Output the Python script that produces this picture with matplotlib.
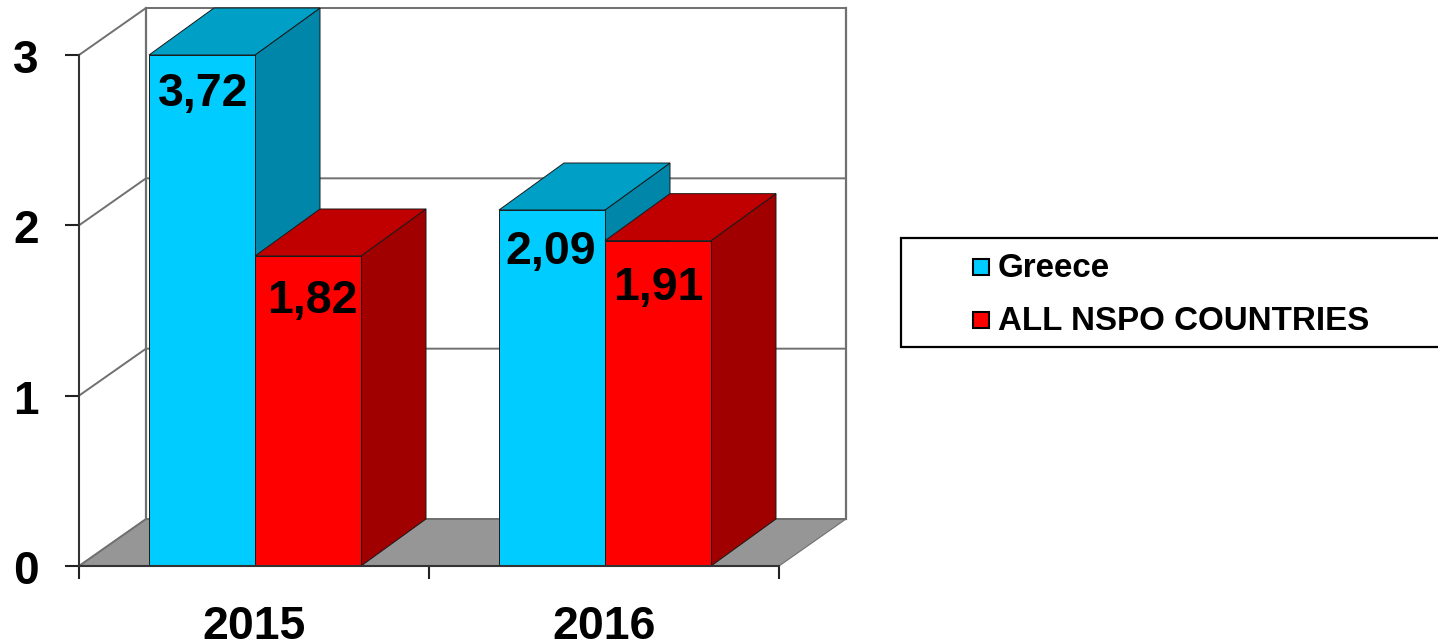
import matplotlib
matplotlib.use("Agg")
import matplotlib.pyplot as plt
from matplotlib.patches import Polygon, Rectangle
from matplotlib.transforms import ScaledTranslation

years = ["2015", "2016"]
series_names = ["Greece", "ALL NSPO COUNTRIES"]
greece = [3.72, 2.09]
nspo = [1.82, 1.91]
y_ticks = [0, 1, 2, 3]

W, H = 1438, 643
plt.rcParams["font.family"] = ["Liberation Sans", "DejaVu Sans"]
plt.rcParams["font.weight"] = "bold"

fig = plt.figure(figsize=(W / 100, H / 100), dpi=100, facecolor="white")
ax = fig.add_axes([79 / W, 1 - 566 / H, 700 / W, 511 / H])
ax.set_xlim(0, 2)
ax.set_ylim(0, 3)
ax.patch.set_visible(False)

# depth of the fake 3d, in data units
px_x = 2 / 700
px_y = 3 / 511
wall_dx = 67 * px_x
bar_dx = 65 * px_x
dy = 47 * px_y
bar_w = 106 * px_x
ymax = y_ticks[-1]

GRID = "#707070"
EDGE = "#1a1a1a"

# floor, walls and gridlines
ax.add_patch(Polygon([(0, 0), (2, 0), (2 + wall_dx, dy), (wall_dx, dy)],
                     fc="#969696", ec="#707070", lw=0.8, clip_on=False, zorder=1))
for t in y_ticks:
    ax.plot([0, wall_dx, 2 + wall_dx], [t, t + dy, t + dy], color=GRID, lw=1.4,
            clip_on=False, zorder=1.5, solid_joinstyle="miter")
ax.plot([wall_dx, wall_dx], [dy, ymax + dy], color=GRID, lw=1.6, clip_on=False, zorder=1.5)
ax.plot([2 + wall_dx, 2 + wall_dx], [dy, ymax + dy], color=GRID, lw=1.6, clip_on=False, zorder=1.5)


def bar3d(x, v, front, top, side, z):
    h = min(v, ymax)
    ax.add_patch(Polygon([(x + bar_w, 0), (x + bar_w + bar_dx, dy), (x + bar_w + bar_dx, h + dy), (x + bar_w, h)],
                         fc=side, ec=EDGE, lw=0.7, clip_on=False, zorder=z))
    ax.add_patch(Polygon([(x, h), (x + bar_w, h), (x + bar_w + bar_dx, h + dy), (x + bar_dx, h + dy)],
                         fc=top, ec=EDGE, lw=0.7, clip_on=False, zorder=z))
    ax.add_patch(Rectangle((x, 0), bar_w, h, fc=front, ec=EDGE, lw=0.7, clip_on=False, zorder=z + 0.1))


# label offsets below the bar top, pixels
nudge_g = [(1, -39), (-1, -42)]
nudge_n = [(4, -45), (0, -47)]

for i in range(len(years)):
    mid = i + 176 * px_x
    bar3d(mid - bar_w, greece[i], "#00CCFF", "#00A0C6", "#0086A8", 2 + i)
    bar3d(mid, nspo[i], "#FF0000", "#C00000", "#A00000", 2.5 + i)
    for x0, v, nd, z in [(mid - bar_w, greece[i], nudge_g[i], 6), (mid, nspo[i], nudge_n[i], 6)]:
        ax.annotate(f"{v:.2f}".replace(".", ","), (x0 + bar_w / 2, min(v, ymax)),
                    xytext=(nd[0] * 0.72, nd[1] * 0.72), textcoords="offset points",
                    ha="center", va="center", fontsize=33.5, fontweight="bold",
                    color="black", zorder=z, annotation_clip=False)

# axes
for s in ["top", "right"]:
    ax.spines[s].set_visible(False)
for s in ["left", "bottom"]:
    ax.spines[s].set_color("#333333")
    ax.spines[s].set_linewidth(1.5)
    ax.spines[s].set_zorder(7)
ax.set_yticks(y_ticks)
ax.set_yticklabels([str(t) for t in y_ticks], fontsize=33, fontweight="bold")
ax.tick_params(axis="y", length=10, width=1.5, color="#222222", pad=19)
for lab in ax.get_yticklabels():
    lab.set_transform(lab.get_transform() + ScaledTranslation(0, -0.01, fig.dpi_scale_trans))
ax.set_xticks([0, 1, 2])
ax.set_xticklabels([])
ax.tick_params(axis="x", which="major", length=9.5, width=1.5, color="#222222")
ax.set_xticks([0.5, 1.5], minor=True)
ax.set_xticklabels(years, minor=True, fontsize=33.5, fontweight="bold")
ax.tick_params(axis="x", which="minor", length=0, pad=28)

# legend box, cut off by the right edge like the original
fig.add_artist(Rectangle((901 / W, 1 - 347 / H), 600 / W, 109 / H, transform=fig.transFigure,
                         fc="white", ec="black", lw=1.6))
for name, col, yp in zip(series_names, ["#00CCFF", "#FF0000"], [267, 320]):
    fig.add_artist(Rectangle((973 / W, 1 - (yp + 8) / H), 16 / W, 16 / H, transform=fig.transFigure,
                             fc=col, ec="black", lw=1.5))
    fig.text(998 / W, 1 - (yp + 1.5) / H, name, fontsize=23.9, fontweight="bold", color="black",
             ha="left", va="center")

fig.savefig("out.png", dpi=100)
